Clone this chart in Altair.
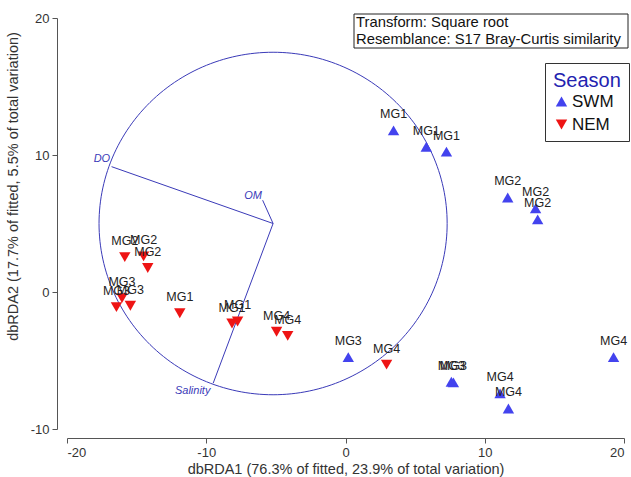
import altair as alt
import numpy as np
import pandas as pd

# dbRDA sample scores: site, season and the two constrained axes
season = ["SWM"] * 12 + ["NEM"] * 12
site = ["MG1", "MG1", "MG1", "MG2", "MG2", "MG2", "MG3", "MG3", "MG3", "MG4", "MG4", "MG4",
        "MG1", "MG1", "MG1", "MG2", "MG2", "MG2", "MG3", "MG3", "MG3", "MG4", "MG4", "MG4"]
dbrda1 = [3.45, 5.8, 7.25, 11.65, 13.65, 13.8, 0.2, 7.6, 7.75, 19.25, 11.1, 11.7,
          -11.9, -8.15, -7.75, -15.85, -14.5, -14.2, -16.05, -16.45, -15.45, -4.95, -4.15, 2.95]
dbrda2 = [11.8, 10.6, 10.25, 6.9, 6.1, 5.3, -4.75, -6.55, -6.6, -4.75, -7.4, -8.5,
          -1.55, -2.3, -2.15, 2.55, 2.6, 1.75, -0.45, -1.1, -1.0, -2.9, -3.2, -5.3]

# Environmental vectors (multiple partial correlations) drawn from the circle centre
vec_names = ["DO", "OM", "Salinity"]
vec_x = [-16.8, -5.95, -9.5]
vec_y = [9.15, 6.7, -6.65]
vec_label_x = [-16.9, -6.0, -9.7]
vec_label_y = [9.7, 7.0, -7.25]
centre_x, centre_y = -5.2, 5.0
circle_radius = 12.5

x_ticks = [-20, -10, 0, 10, 20]
y_ticks = [-10, 0, 10, 20]

BLUE = "#4343ee"
RED = "#ee1414"
VEC = "#3a3ab8"
FONT = "Liberation Sans"
HYPHEN_MINUS = "replace(datum.label, '\u2212', '-')"

samples = pd.DataFrame({"season": season, "site": site, "x": dbrda1, "y": dbrda2})
vectors = pd.DataFrame({"name": vec_names, "x": [centre_x] * 3, "y": [centre_y] * 3,
                        "x2": vec_x, "y2": vec_y, "lx": vec_label_x, "ly": vec_label_y})

theta = np.linspace(0, 2 * np.pi, 241)
circle = pd.DataFrame({"i": np.arange(theta.size),
                       "x": centre_x + circle_radius * np.cos(theta),
                       "y": centre_y + circle_radius * np.sin(theta)})

xs = alt.Scale(domain=[-20, 20], nice=False, zero=False)
ys = alt.Scale(domain=[-10, 20], nice=False, zero=False)

x_axis = alt.Axis(title="dbRDA1 (76.3% of fitted, 23.9% of total variation)", values=x_ticks,
                  offset=9, tickSize=5, labelPadding=3, titlePadding=3, grid=False,
                  labelExpr=HYPHEN_MINUS)
y_axis = alt.Axis(title="dbRDA2 (17.7% of fitted, 5.5% of total variation)", values=y_ticks,
                  offset=10, tickSize=5, labelPadding=3, titlePadding=10, grid=False,
                  titleY=168, labelExpr=HYPHEN_MINUS)

base_circle = alt.Chart(circle).mark_line(color=VEC, strokeWidth=1, clip=False).encode(
    x=alt.X("x:Q", scale=xs, axis=x_axis),
    y=alt.Y("y:Q", scale=ys, axis=y_axis),
    order="i:Q",
)

rules = alt.Chart(vectors).mark_rule(color=VEC, strokeWidth=1).encode(
    x=alt.X("x:Q", scale=xs), y=alt.Y("y:Q", scale=ys), x2="x2:Q", y2="y2:Q"
)

vec_labels = alt.Chart(vectors).mark_text(
    align="right", baseline="middle", fontStyle="italic", fontSize=11, font=FONT, color=VEC
).encode(x=alt.X("lx:Q", scale=xs), y=alt.Y("ly:Q", scale=ys), text="name:N")

season_legend = alt.Legend(
    title="Season", orient="none", legendX=478, legendY=45,
    strokeColor="#333", fillColor="white", padding=8,
    titleFont=FONT, titleFontSize=20, titleFontWeight="normal", titleColor="#2323b0",
    titlePadding=2, labelFont=FONT, labelFontSize=17, labelColor="#111",
    symbolSize=130, symbolStrokeWidth=0, rowPadding=5, labelOffset=2,
)

points = alt.Chart(samples).mark_point(filled=True, size=130, opacity=1, strokeWidth=0).encode(
    x=alt.X("x:Q", scale=xs),
    y=alt.Y("y:Q", scale=ys),
    color=alt.Color("season:N", scale=alt.Scale(domain=["SWM", "NEM"], range=[BLUE, RED]),
                    legend=season_legend),
    shape=alt.Shape("season:N", scale=alt.Scale(domain=["SWM", "NEM"],
                                                range=["triangle-up", "triangle-down"]),
                    legend=season_legend),
)

point_labels = alt.Chart(samples).mark_text(
    dy=-16, fontSize=12.5, font=FONT, color="#222"
).encode(x=alt.X("x:Q", scale=xs), y=alt.Y("y:Q", scale=ys), text="site:N")

one = pd.DataFrame({"k": [0]})
info_box = alt.Chart(one).mark_rect(fill="white", stroke="#222", strokeWidth=1).encode(
    x=alt.value(287), x2=alt.value(561), y=alt.value(-4), y2=alt.value(30)
)
info_line1 = alt.Chart(one).mark_text(
    align="left", baseline="middle", fontSize=14.8, font=FONT, color="#111"
).encode(x=alt.value(289), y=alt.value(5), text=alt.value("Transform: Square root"))
info_line2 = alt.Chart(one).mark_text(
    align="left", baseline="middle", fontSize=14.8, font=FONT, color="#111"
).encode(x=alt.value(289), y=alt.value(22),
         text=alt.value("Resemblance: S17 Bray-Curtis similarity"))

chart = alt.layer(
    base_circle, rules, vec_labels, points, point_labels, info_box, info_line1, info_line2
).properties(
    width=557, height=411,
    autosize=alt.AutoSizeParams(type="none"),
    padding={"left": 67, "top": 18, "right": 7, "bottom": 48},
    background="white",
).configure_view(stroke=None).configure_axis(
    labelFont=FONT, labelFontSize=13, labelColor="#333",
    titleFont=FONT, titleFontSize=14.5, titleFontWeight="normal", titleColor="#333",
    domainColor="#555", tickColor="#555",
)

chart.save("out.html", embed_options={"renderer": "svg", "actions": False})
